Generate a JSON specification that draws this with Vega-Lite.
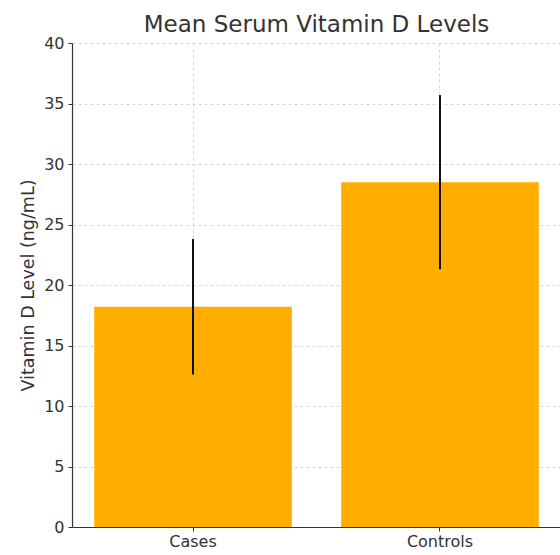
{
  "$schema": "https://vega.github.io/schema/vega-lite/v6.json",
  "width": 489,
  "height": 484,
  "autosize": {"type": "none"},
  "padding": {"left": 72, "top": 43, "right": 0, "bottom": 28},
  "background": "white",
  "title": {"text": "Mean Serum Vitamin D Levels", "font": "DejaVu Sans", "fontSize": 23, "fontWeight": "normal", "color": "#333333", "offset": -2, "anchor": "middle"},
  "config": {
    "view": {"stroke": null},
    "font": "DejaVu Sans"
  },
  "data": {"values": [
    {"group": "Cases", "mean": 18.2, "low": 12.6, "high": 23.8},
    {"group": "Controls", "mean": 28.5, "low": 21.3, "high": 35.7}
  ]},
  "encoding": {
    "x": {"field": "group", "type": "nominal", "sort": null,
      "scale": {"paddingInner": 0.2, "paddingOuter": 0.09},
      "axis": {"title": null, "labelAngle": 0, "labelFontSize": 16, "labelColor": "#333333", "labelPadding": 2,
        "domainColor": "#333333", "domainWidth": 1.2, "tickColor": "#333333", "tickSize": 4, "tickBand": "center",
        "grid": true, "gridDash": [3, 3], "gridColor": "#cccccc", "gridWidth": 0.8}}
  },
  "layer": [
    {
      "mark": {"type": "bar", "color": "#FFAE00"},
      "encoding": {
        "y": {"field": "mean", "type": "quantitative",
          "scale": {"domain": [0, 40], "nice": false},
          "axis": {"title": "Vitamin D Level (ng/mL)", "titleFontSize": 17.5, "titleFontWeight": "normal", "titleColor": "#333333", "titlePadding": 6,
            "values": [0, 5, 10, 15, 20, 25, 30, 35, 40], "labelFontSize": 16, "labelColor": "#333333", "labelPadding": 4,
            "domainColor": "#333333", "domainWidth": 1.2, "tickColor": "#333333", "tickSize": 4,
            "grid": true, "gridDash": [3, 3], "gridColor": "#cccccc", "gridWidth": 0.8}}
      }
    },
    {
      "mark": {"type": "rule", "color": "#111111", "strokeWidth": 2},
      "encoding": {
        "y": {"field": "low", "type": "quantitative"},
        "y2": {"field": "high"}
      }
    }
  ]
}
